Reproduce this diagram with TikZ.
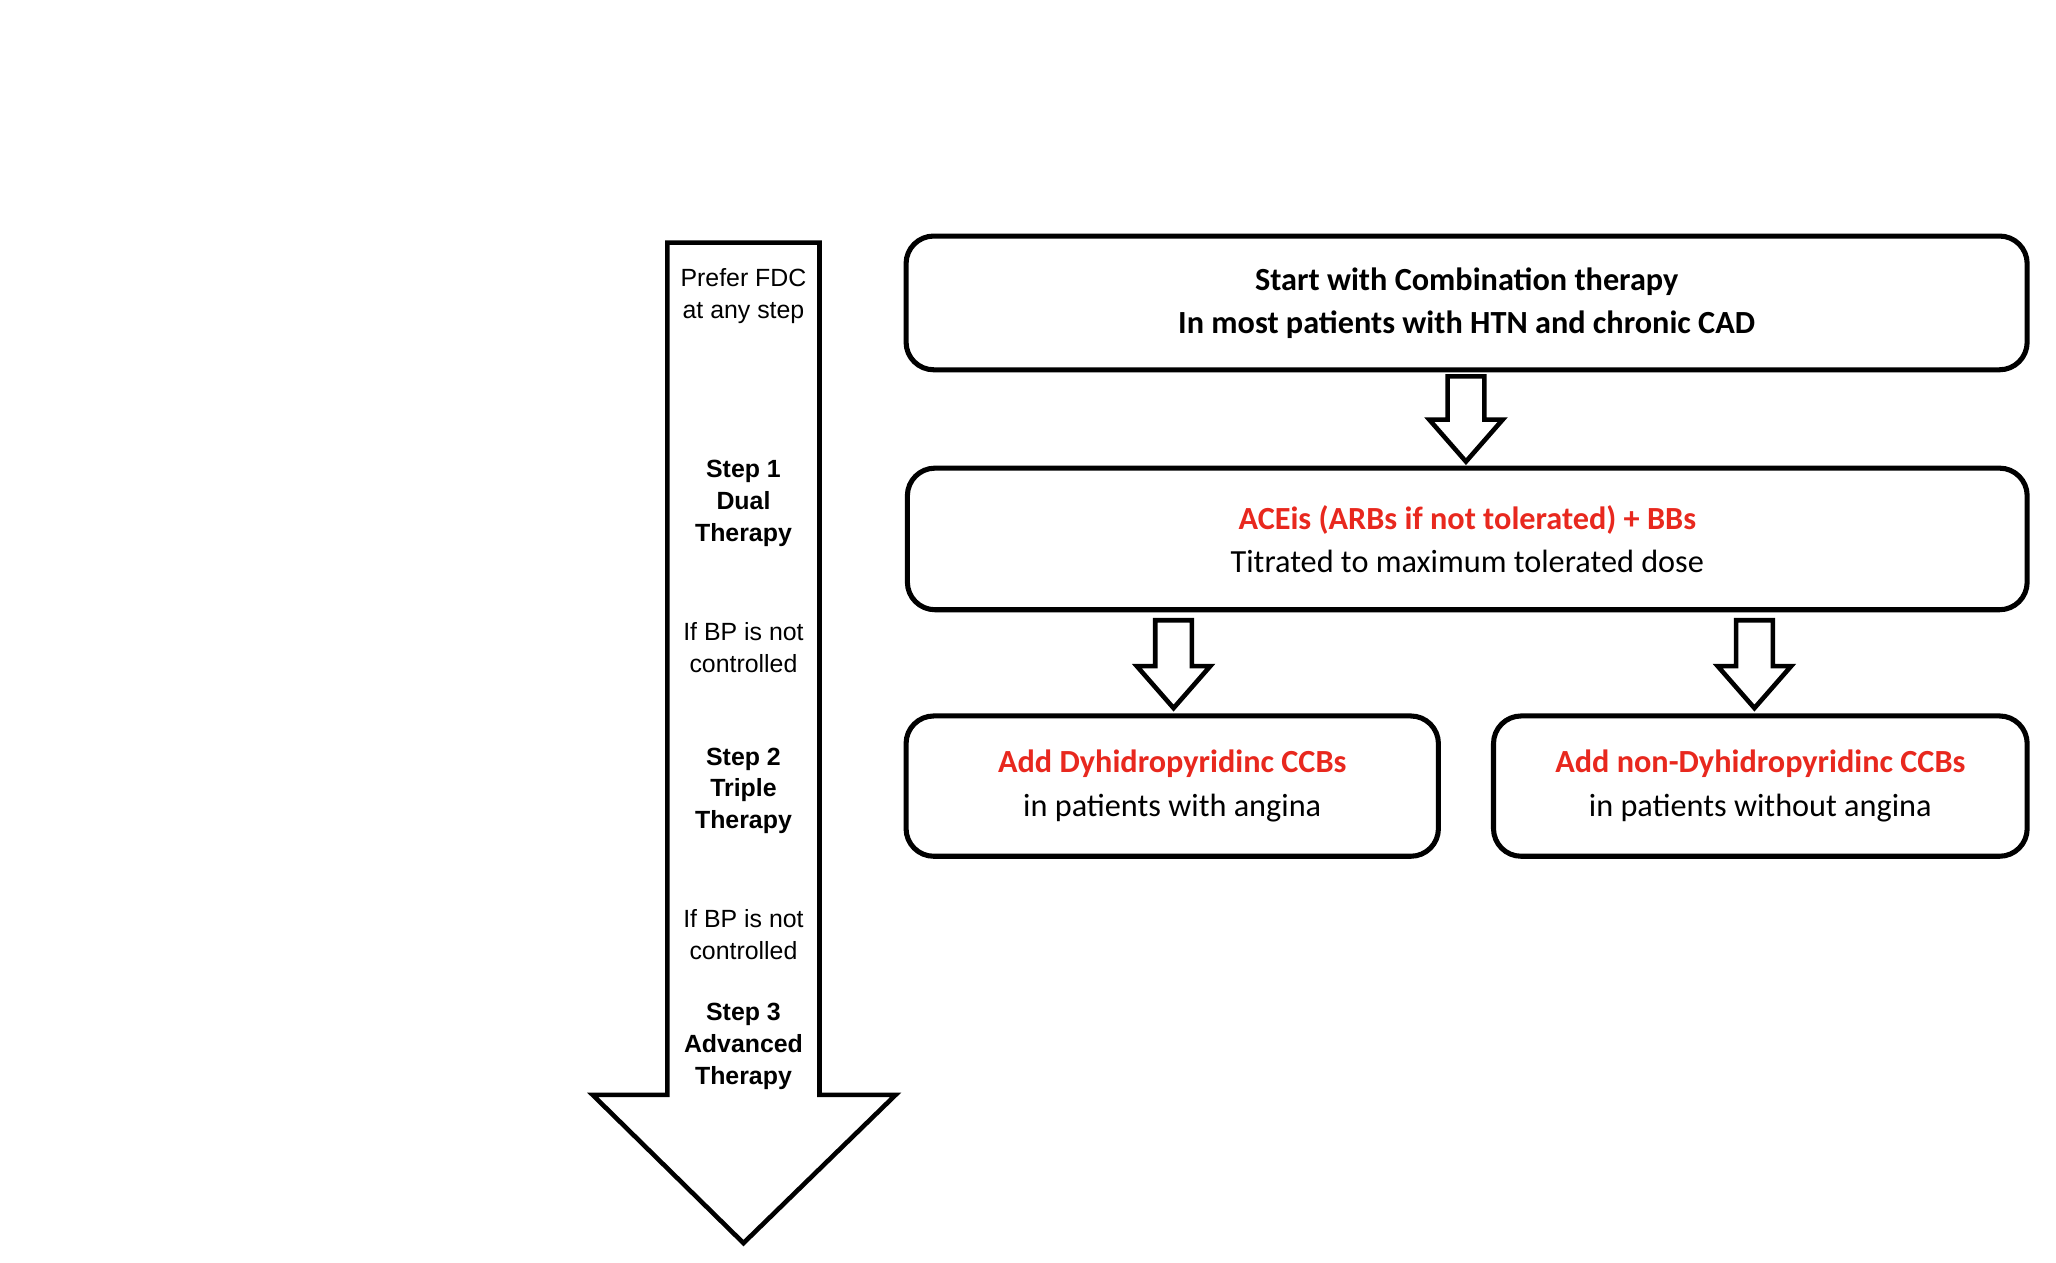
\documentclass[tikz,border=0pt]{standalone}
\usepackage{fontspec}
\setmainfont{Carlito}
\newfontfamily\arialfont{Liberation Sans}
\usetikzlibrary{positioning}
\definecolor{stepred}{RGB}{232,40,30}
\tikzset{
  box/.style={draw,line width=1.1pt,rounded corners=6pt,align=center,font=\fontsize{7}{9.4}\selectfont},
  steptext/.style={align=center,font=\arialfont\fontsize{5.4}{6.9}\selectfont},
  hollow/.style={draw,line width=1pt,fill=white}
}
\newcommand{\hollowarrow}[3]{% x, top y, bottom y
  \draw[hollow] (#1-0.14,-#2) -- (#1+0.14,-#2) -- (#1+0.14,-#3+0.32) -- (#1+0.28,-#3+0.32)
    -- (#1,-#3) -- (#1-0.28,-#3+0.32) -- (#1-0.14,-#3+0.32) -- cycle;}
\begin{document}
\begin{tikzpicture}
  \useasboundingbox (0,0) rectangle (15.68,-9.63);
  % step arrow
  \draw[hollow]
    (5.09,-1.85) -- (6.25,-1.85) -- (6.25,-8.35) -- (6.83,-8.35)
    -- (5.67,-9.48) -- (4.52,-8.35) -- (5.09,-8.35) -- cycle;
  \node[steptext] (fdc) at (5.67,-2.26) {Prefer FDC\\at any step};
  \node[steptext] (step1) at (5.67,-3.84) {\bfseries Step 1\\\bfseries Dual\\\bfseries Therapy};
  \node[steptext] (bp1) at (5.67,-4.94) {If BP is not\\controlled};
  \node[steptext] (step2) at (5.67,-6.03) {\bfseries Step 2\\\bfseries Triple\\\bfseries Therapy};
  \node[steptext] (bp2) at (5.67,-7.13) {If BP is not\\controlled};
  \node[steptext] (step3) at (5.67,-7.98) {\bfseries Step 3\\\bfseries Advanced\\\bfseries Therapy};
  % boxes
  \node[box,minimum width=8.55cm,minimum height=1.02cm] (start) at (11.185,-2.31)
    {\bfseries Start with Combination therapy\\\bfseries In most patients with HTN and chronic CAD};
  \node[box,minimum width=8.54cm,minimum height=1.08cm] (acei) at (11.19,-4.11)
    {\textcolor{stepred}{\bfseries ACEis (ARBs if not tolerated) + BBs}\\Titrated to maximum tolerated dose};
  \node[box,minimum width=4.06cm,minimum height=1.07cm] (dhp) at (8.94,-5.995)
    {\textcolor{stepred}{\bfseries Add Dyhidropyridinc CCBs}\\in patients with angina};
  \node[box,minimum width=4.07cm,minimum height=1.07cm] (ndhp) at (13.425,-5.995)
    {\textcolor{stepred}{\bfseries Add non-Dyhidropyridinc CCBs}\\in patients without angina};
  % connectors
  \hollowarrow{11.18}{2.87}{3.52}
  \hollowarrow{8.95}{4.73}{5.40}
  \hollowarrow{13.38}{4.73}{5.40}
\end{tikzpicture}
\end{document}
